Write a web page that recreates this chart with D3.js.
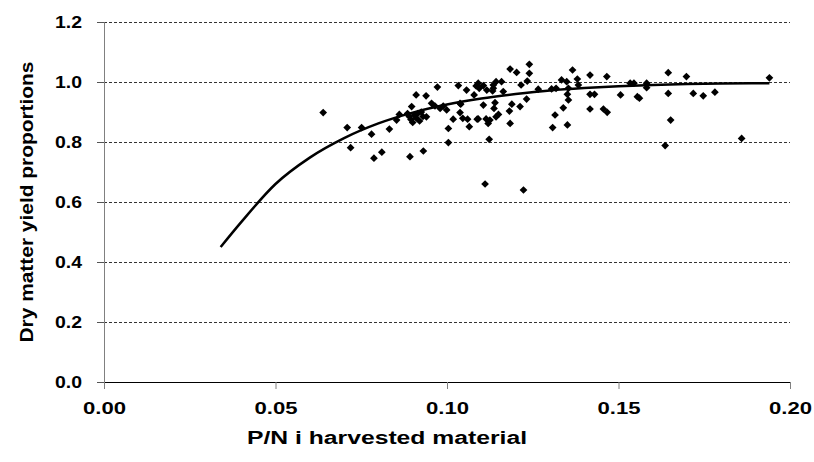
<!DOCTYPE html>
<html><head><meta charset="utf-8">
<script src="https://cdn.jsdelivr.net/npm/d3@7"></script>
<style>body{margin:0;background:#fff}svg{display:block}</style>
</head><body>
<script>
// Observed data: [P/N, yield proportion]
const pointsX = [0.0639,0.0709,0.0719,0.0751,0.078,0.0787,0.081,0.0832,0.0853,0.0861,
0.0885,0.089,0.0895,0.0897,0.09,0.0905,0.091,0.0915,0.092,0.093,0.094,0.0925,
0.0892,0.0931,0.091,0.0939,0.0972,0.0955,0.0965,0.098,0.0989,0.0999,
0.1004,0.1004,0.1018,0.1033,0.1038,0.1038,0.104,0.1046,0.1057,0.106,0.1065,0.1079,0.1085,0.1088,0.1091,
0.1091,0.1094,0.1106,0.1106,0.1111,0.1114,0.1116,0.112,0.1123,0.1125,0.1133,0.1135,0.1135,0.1137,0.114,0.1143,0.1143,0.115,0.1159,
0.1164,0.1182,0.1184,0.1184,0.1189,0.1203,0.1213,0.1216,0.1223,0.1232,0.1234,0.124,0.124,0.1266,0.1305,0.1308,0.1315,0.1318,
0.1334,0.1339,0.1349,0.1351,0.1351,0.1354,0.1354,0.1366,0.138,0.1383,0.1417,0.1417,0.143,0.1417,0.1456,0.1467,0.1466,0.1506,
0.1534,0.1545,0.1555,0.1561,0.1582,0.1582,0.1645,0.1645,0.1652,0.1636,0.1698,0.1718,0.1747,0.1781,0.1859,0.194];
const pointsY = [0.898,0.848,0.781,0.848,0.826,0.746,0.766,0.843,0.873,0.892,
0.895,0.885,0.875,0.918,0.865,0.89,0.88,0.895,0.87,0.885,0.884,0.9,
0.751,0.77,0.957,0.954,0.983,0.929,0.92,0.912,0.92,0.907,
0.845,0.798,0.876,0.988,0.898,0.929,0.926,0.879,0.973,0.876,0.851,0.957,0.987,0.876,0.877,
0.996,0.979,0.988,0.923,0.66,0.877,0.973,0.862,0.809,0.873,0.97,0.979,0.99,0.912,0.931,1.001,0.884,0.892,1.001,
0.968,0.903,1.043,0.862,0.926,1.032,0.918,0.99,0.64,0.943,1.003,1.059,1.029,0.976,0.977,0.848,0.89,0.979,
1.007,0.914,1.001,0.959,0.857,0.94,0.979,1.04,1.01,0.99,1.023,0.959,0.959,0.91,0.91,0.899,1.018,0.957,
0.996,0.996,0.951,0.946,0.996,0.981,1.031,0.962,0.873,0.788,1.018,0.962,0.954,0.966,0.812,1.014];
// Fitted curve
const curveX = [0.034,0.04,0.05,0.06,0.07,0.08,0.09,0.10,0.11,0.12,0.13,0.14,0.15,0.16,0.17,0.18,0.194];
const curveY = [0.45,0.533,0.66,0.748,0.813,0.862,0.898,0.925,0.945,0.96,0.972,0.98,0.986,0.99,0.993,0.995,0.996];
const xTicks = [0,0.05,0.10,0.15,0.20];
const yTicks = [0,0.2,0.4,0.6,0.8,1.0,1.2];
const xTitle = "P/N i harvested material";
const yTitle = "Dry matter yield proportions";

const W=814,H=462;
const svg=d3.select("body").append("svg").attr("width",W).attr("height",H);
const x=d3.scaleLinear().domain([0,0.2]).range([104,790]);
const y=d3.scaleLinear().domain([0,1.2]).range([382,22]);
const font="'Liberation Sans', Arial, sans-serif";

// gridlines
svg.append("g").selectAll("line").data(yTicks.filter(d=>d>0)).join("line")
 .attr("x1",x(0)).attr("x2",x(0.2)).attr("y1",d=>y(d)).attr("y2",d=>y(d))
 .attr("stroke","#333").attr("stroke-width",1).attr("stroke-dasharray","3,2")
 .attr("shape-rendering","crispEdges");

// y axis
const ya=svg.append("g").attr("transform",`translate(${x(0)},0)`)
 .call(d3.axisLeft(y).tickValues(yTicks).tickFormat(d3.format(".1f")).tickSize(7).tickPadding(15));
ya.select(".domain").attr("stroke","#808080");
ya.selectAll(".tick line").attr("stroke","#555");
ya.selectAll("text").attr("font-family",font).attr("font-weight","bold").attr("font-size",16).attr("fill","#000")
  .attr("textLength",27).attr("lengthAdjust","spacingAndGlyphs");

// x axis
const xa=svg.append("g").attr("transform",`translate(0,${y(0)})`)
 .call(d3.axisBottom(x).tickValues(xTicks).tickFormat(d3.format(".2f")).tickSize(7).tickPadding(14));
xa.select(".domain").attr("stroke","#000");
xa.selectAll(".tick line").attr("stroke","#808080");
xa.selectAll("text").attr("font-family",font).attr("font-weight","bold").attr("font-size",16).attr("fill","#000")
  .attr("textLength",43).attr("lengthAdjust","spacingAndGlyphs");

// curve
const line=d3.line().x(d=>x(d[0])).y(d=>y(d[1])).curve(d3.curveMonotoneX);
svg.append("path").datum(curveX.map((v,i)=>[v,curveY[i]])).attr("d",line)
 .attr("fill","none").attr("stroke","#000").attr("stroke-width",2.5);

// points (diamonds)
svg.append("g").selectAll("path").data(pointsX.map((v,i)=>[v,pointsY[i]])).join("path")
 .attr("d",d3.symbol(d3.symbolSquare,30)())
 .attr("transform",d=>`translate(${x(d[0])},${y(d[1])}) rotate(45)`)
 .attr("fill","#000");

// titles
svg.append("text").attr("x",387).attr("y",444).attr("text-anchor","middle")
 .attr("font-family",font).attr("font-weight","bold").attr("font-size",18)
 .attr("textLength",280).attr("lengthAdjust","spacingAndGlyphs").text(xTitle);
svg.append("text").attr("transform","translate(33,202) rotate(-90)").attr("text-anchor","middle")
 .attr("font-family",font).attr("font-weight","bold").attr("font-size",19)
 .attr("textLength",281).attr("lengthAdjust","spacingAndGlyphs").text(yTitle);
</script>
</body></html>
